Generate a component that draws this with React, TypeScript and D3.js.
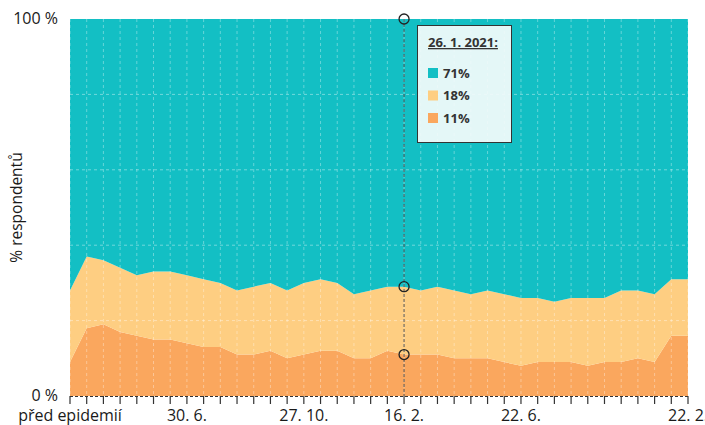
import React from "react";
import * as d3 from "d3";

// share of respondents per survey wave (index 0 = before epidemic)
const orangeValues = [9,18,19,17,16,15,15,14,13,13,11,11,12,10,11,12,12,10,10,12,11,11,11,10,10,10,9,8,9,9,9,8,9,9,10,9,16,16];
const lightValues = [19,19,17,17,16,18,18,18,18,17,17,18,18,18,19,19,18,17,18,17,18,17,18,18,17,18,18,18,17,16,17,18,17,19,18,18,15,15];
const tealValues = [72,63,64,66,68,67,67,68,69,70,72,71,70,72,70,69,70,73,72,71,71,72,71,72,73,72,73,74,74,75,74,74,74,72,72,73,69,69];

const tickIndex = [0, 7, 14, 20, 27, 37];
const tickLabels = ["před epidemií", "30. 6.", "27. 10.", "16. 2.", "22. 6.", "22. 2."];
const yTickValues = [0, 100];
const yTickLabels = ["0 %", "100 %"];
const gridValues = [20, 40, 60, 80];

const hoverIndex = 20;
const hoverDate = "26. 1. 2021:";

const keys = ["orange", "light", "teal"];
const colors: Record<string, string> = { teal: "#13bfc4", light: "#fece82", orange: "#faa75e" };

const W = 705, H = 425;
const FONT = "'Open Sans', 'Noto Sans', sans-serif";

export default function App() {
  const n = orangeValues.length;
  const rows = orangeValues.map((o, i) => ({ orange: o, light: lightValues[i], teal: tealValues[i] }));
  const stacked = d3.stack<any>().keys(keys)(rows);
  const x = d3.scaleLinear().domain([0, n - 1]).range([70, 688]);
  const y = d3.scaleLinear().domain([0, 100]).range([396, 19]);
  const area = d3.area<any>().x((_d, i) => x(i)).y0((d) => y(d[0])).y1((d) => y(d[1]));
  const idx = d3.range(n);
  const hx = x(hoverIndex);
  const hoverVals = [tealValues[hoverIndex], lightValues[hoverIndex], orangeValues[hoverIndex]];
  const hoverKeys = ["teal", "light", "orange"];
  const circleYs = [100, orangeValues[hoverIndex] + lightValues[hoverIndex], orangeValues[hoverIndex]];

  return (
    <svg width={W} height={H} style={{ position: "absolute", left: 0, top: 0, fontFamily: FONT }}>
      <rect x={0} y={0} width={W} height={H} fill="#fff" />
      {stacked.map((s) => (
        <path key={s.key} d={area(s) || ""} fill={colors[s.key]} />
      ))}
      {/* grid */}
      {idx.map((i) => (
        <line key={"v" + i} x1={x(i)} x2={x(i)} y1={y(100)} y2={y(0)} stroke="#fff" strokeOpacity={0.35} strokeDasharray="3,3" />
      ))}
      {gridValues.map((v) => (
        <line key={"h" + v} x1={x(0)} x2={x(n - 1)} y1={y(v)} y2={y(v)} stroke="#fff" strokeOpacity={0.4} strokeDasharray="3,3" />
      ))}
      {/* x axis */}
      <line x1={x(0)} x2={x(n - 1)} y1={y(0) + 0.5} y2={y(0) + 0.5} stroke="#333" strokeDasharray="3,2" />
      {idx.map((i) => (
        <line key={"t" + i} x1={x(i)} x2={x(i)} y1={y(0)} y2={y(0) + 8} stroke="#333" strokeWidth={1.2} />
      ))}
      {tickIndex.map((ti, k) => (
        <text key={"xl" + k} x={x(ti)} y={421} textAnchor="middle" fontSize={16} fill="#1a1a1a" fontWeight={500}>
          {tickLabels[k]}
        </text>
      ))}
      {yTickValues.map((v, k) => (
        <text key={"yl" + k} x={58} y={y(v)} dy="0.3em" textAnchor="end" fontSize={16} fill="#1a1a1a" fontWeight={500}>
          {yTickLabels[k]}
        </text>
      ))}
      <text transform={`translate(22,${(y(0) + y(100)) / 2}) rotate(-90)`} textAnchor="middle" fontSize={15.5} fill="#1a1a1a" fontWeight={500}>
        % respondentů
      </text>
      {/* hover */}
      <line x1={hx} x2={hx} y1={y(100)} y2={y(0)} stroke="#555" strokeWidth={1} strokeDasharray="3,2" />
      {circleYs.map((v, k) => (
        <circle key={"c" + k} cx={hx} cy={y(v)} r={5} fill="none" stroke="#222" strokeWidth={1.3} />
      ))}
      <g transform="translate(417,25)">
        <rect x={0.5} y={0.5} width={94} height={117} fill="#f4fbfb" fillOpacity={0.93} stroke="#333" strokeWidth={1} />
        <text x={11} y={22} fontSize={13} fontWeight={700} fill="#333" textDecoration="underline">
          {hoverDate}
        </text>
        {hoverKeys.map((k, i) => (
          <g key={k} transform={`translate(11,${48 + i * 22.5})`}>
            <rect x={0} y={-5} width={10} height={10} fill={colors[k]} />
            <text x={15} y={0} dy="0.35em" fontSize={13} fontWeight={700} fill="#333">
              {hoverVals[i]}%
            </text>
          </g>
        ))}
      </g>
    </svg>
  );
}
